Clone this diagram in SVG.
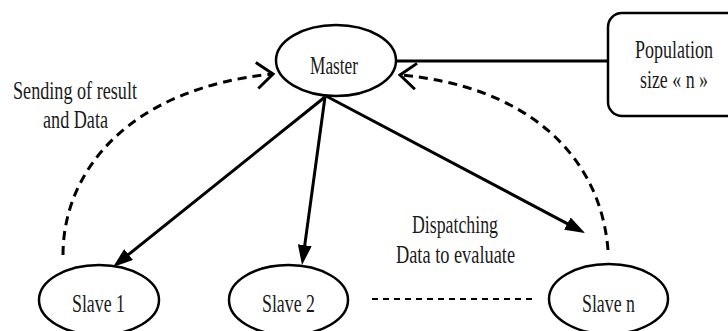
<svg xmlns="http://www.w3.org/2000/svg" width="728" height="331" viewBox="0 0 728 331">
<style>
  .node { fill: #fff; stroke: #000; stroke-width: 2.5; }
  .lbl { font-family: "Liberation Serif", "DejaVu Serif", serif; font-size: 26px; fill: #1a1a1a; }
  .solid { fill: none; stroke: #000; stroke-width: 3; }
  .dash { fill: none; stroke: #000; stroke-width: 3; stroke-dasharray: 9 6; }
  .dot { fill: none; stroke: #000; stroke-width: 2.2; stroke-dasharray: 6 5; }
</style>
<defs>
  <marker id="tri" viewBox="0 0 20 14" refX="10" refY="7" markerWidth="20" markerHeight="14" markerUnits="userSpaceOnUse" orient="auto">
    <path d="M0,0 L20,7 L0,14 z" fill="#000"/>
  </marker>
  <marker id="chev" viewBox="0 0 20 30" refX="18" refY="15" markerWidth="20" markerHeight="30" markerUnits="userSpaceOnUse" orient="auto">
    <path d="M2,2 L18,15 L2,28" fill="none" stroke="#000" stroke-width="3" stroke-dasharray="none"/>
  </marker>
</defs>
<rect width="728" height="331" fill="#fff"/>
<g id="connectors">
  <line class="solid" x1="396" y1="61" x2="608" y2="61"/>
  <line class="solid" x1="325" y1="97" x2="120.8" y2="260.7" marker-end="url(#tri)"/>
  <line class="solid" x1="325" y1="97" x2="303.4" y2="255.1" marker-end="url(#tri)"/>
  <line class="solid" x1="326" y1="96" x2="576.2" y2="228.3" marker-end="url(#tri)"/>
  <path class="dash" d="M63,255 C63,170 130,88 273,74" marker-end="url(#chev)"/>
  <path class="dash" d="M608,250 C600,150 520,85 400,75" marker-end="url(#chev)"/>
  <line class="dot" x1="372" y1="299" x2="537" y2="299"/>
</g>
<g id="master">
  <ellipse class="node" cx="336" cy="60.5" rx="60" ry="35.5"/>
  <text class="lbl" transform="translate(310,74) scale(0.72,1)" textLength="66.7" lengthAdjust="spacingAndGlyphs">Master</text>
</g>
<g id="population">
  <rect class="node" x="608" y="13" width="140" height="103" rx="14" stroke-width="3"/>
  <text class="lbl" transform="translate(635,58) scale(0.72,1)" textLength="108.3" lengthAdjust="spacingAndGlyphs">Population</text>
  <text class="lbl" transform="translate(640,88) scale(0.72,1)" textLength="94.4" lengthAdjust="spacingAndGlyphs">size « n »</text>
</g>
<g id="slave1">
  <ellipse class="node" cx="99" cy="300" rx="60" ry="35"/>
  <text class="lbl" transform="translate(72,312) scale(0.72,1)" textLength="73.6" lengthAdjust="spacingAndGlyphs">Slave 1</text>
</g>
<g id="slave2">
  <ellipse class="node" cx="288.5" cy="300" rx="59.5" ry="35"/>
  <text class="lbl" transform="translate(262,312) scale(0.72,1)" textLength="73.6" lengthAdjust="spacingAndGlyphs">Slave 2</text>
</g>
<g id="slaven">
  <ellipse class="node" cx="608.5" cy="299" rx="59.5" ry="35"/>
  <text class="lbl" transform="translate(582,312) scale(0.72,1)" textLength="73.6" lengthAdjust="spacingAndGlyphs">Slave n</text>
</g>
<g id="label-sending">
  <text class="lbl" transform="translate(13,99) scale(0.72,1)" textLength="172.2" lengthAdjust="spacingAndGlyphs">Sending of result</text>
  <text class="lbl" transform="translate(43,128) scale(0.72,1)" textLength="90.3" lengthAdjust="spacingAndGlyphs">and Data</text>
</g>
<g id="label-dispatching">
  <text class="lbl" transform="translate(412,233) scale(0.72,1)" textLength="119.4" lengthAdjust="spacingAndGlyphs">Dispatching</text>
  <text class="lbl" transform="translate(396,263) scale(0.72,1)" textLength="165.3" lengthAdjust="spacingAndGlyphs">Data to evaluate</text>
</g>
</svg>
